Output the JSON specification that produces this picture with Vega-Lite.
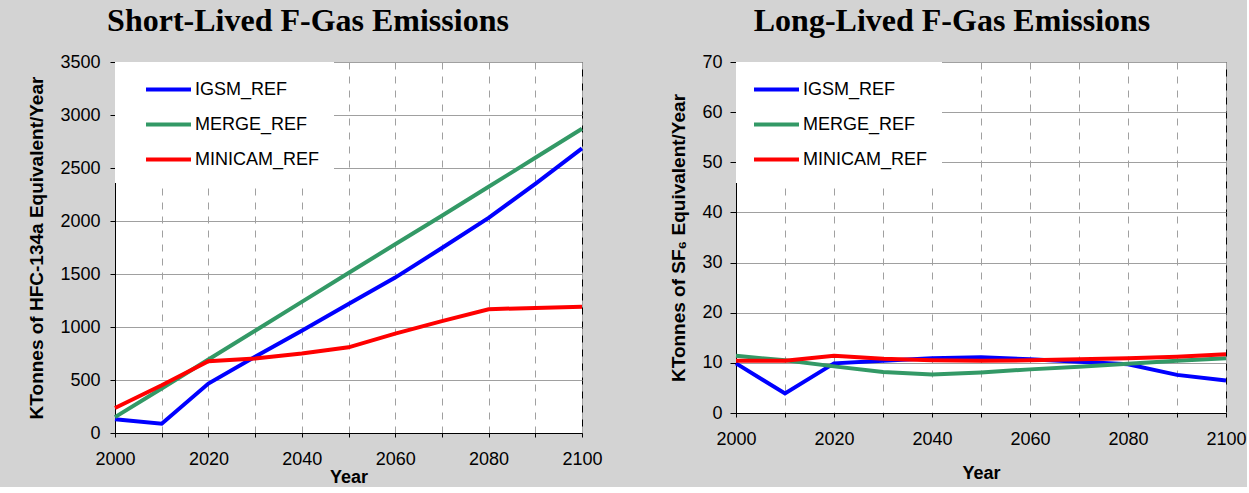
{
  "$schema": "https://vega.github.io/schema/vega-lite/v6.json",
  "background": "#d3d3d3",
  "padding": {"left": 27, "top": 4, "right": 0, "bottom": 0},
  "spacing": 66,
  "datasets": {
    "short": [
      {"model": "IGSM_REF", "year": 2000, "value": 130},
      {"model": "IGSM_REF", "year": 2010, "value": 88},
      {"model": "IGSM_REF", "year": 2020, "value": 466},
      {"model": "IGSM_REF", "year": 2030, "value": 720},
      {"model": "IGSM_REF", "year": 2040, "value": 965},
      {"model": "IGSM_REF", "year": 2050, "value": 1218},
      {"model": "IGSM_REF", "year": 2060, "value": 1466},
      {"model": "IGSM_REF", "year": 2070, "value": 1745},
      {"model": "IGSM_REF", "year": 2080, "value": 2030},
      {"model": "IGSM_REF", "year": 2090, "value": 2350},
      {"model": "IGSM_REF", "year": 2100, "value": 2685},
      {"model": "MERGE_REF", "year": 2000, "value": 150},
      {"model": "MERGE_REF", "year": 2010, "value": 420},
      {"model": "MERGE_REF", "year": 2020, "value": 693},
      {"model": "MERGE_REF", "year": 2030, "value": 965},
      {"model": "MERGE_REF", "year": 2040, "value": 1237},
      {"model": "MERGE_REF", "year": 2050, "value": 1510},
      {"model": "MERGE_REF", "year": 2060, "value": 1780},
      {"model": "MERGE_REF", "year": 2070, "value": 2050},
      {"model": "MERGE_REF", "year": 2080, "value": 2323},
      {"model": "MERGE_REF", "year": 2090, "value": 2596},
      {"model": "MERGE_REF", "year": 2100, "value": 2870},
      {"model": "MINICAM_REF", "year": 2000, "value": 236},
      {"model": "MINICAM_REF", "year": 2010, "value": 450},
      {"model": "MINICAM_REF", "year": 2020, "value": 677},
      {"model": "MINICAM_REF", "year": 2030, "value": 703},
      {"model": "MINICAM_REF", "year": 2040, "value": 750},
      {"model": "MINICAM_REF", "year": 2050, "value": 808},
      {"model": "MINICAM_REF", "year": 2060, "value": 938},
      {"model": "MINICAM_REF", "year": 2070, "value": 1056},
      {"model": "MINICAM_REF", "year": 2080, "value": 1168},
      {"model": "MINICAM_REF", "year": 2090, "value": 1180},
      {"model": "MINICAM_REF", "year": 2100, "value": 1192}
    ],
    "long": [
      {"model": "IGSM_REF", "year": 2000, "value": 9.9},
      {"model": "IGSM_REF", "year": 2010, "value": 3.9},
      {"model": "IGSM_REF", "year": 2020, "value": 9.9},
      {"model": "IGSM_REF", "year": 2030, "value": 10.4},
      {"model": "IGSM_REF", "year": 2040, "value": 10.9},
      {"model": "IGSM_REF", "year": 2050, "value": 11.1},
      {"model": "IGSM_REF", "year": 2060, "value": 10.7},
      {"model": "IGSM_REF", "year": 2070, "value": 10.2},
      {"model": "IGSM_REF", "year": 2080, "value": 9.7},
      {"model": "IGSM_REF", "year": 2090, "value": 7.6},
      {"model": "IGSM_REF", "year": 2100, "value": 6.5},
      {"model": "MERGE_REF", "year": 2000, "value": 11.4},
      {"model": "MERGE_REF", "year": 2010, "value": 10.5},
      {"model": "MERGE_REF", "year": 2020, "value": 9.3},
      {"model": "MERGE_REF", "year": 2030, "value": 8.2},
      {"model": "MERGE_REF", "year": 2040, "value": 7.7},
      {"model": "MERGE_REF", "year": 2050, "value": 8.1},
      {"model": "MERGE_REF", "year": 2060, "value": 8.7},
      {"model": "MERGE_REF", "year": 2070, "value": 9.2},
      {"model": "MERGE_REF", "year": 2080, "value": 9.8},
      {"model": "MERGE_REF", "year": 2090, "value": 10.4},
      {"model": "MERGE_REF", "year": 2100, "value": 10.9},
      {"model": "MINICAM_REF", "year": 2000, "value": 10.4},
      {"model": "MINICAM_REF", "year": 2010, "value": 10.4},
      {"model": "MINICAM_REF", "year": 2020, "value": 11.4},
      {"model": "MINICAM_REF", "year": 2030, "value": 10.8},
      {"model": "MINICAM_REF", "year": 2040, "value": 10.5},
      {"model": "MINICAM_REF", "year": 2050, "value": 10.4},
      {"model": "MINICAM_REF", "year": 2060, "value": 10.5},
      {"model": "MINICAM_REF", "year": 2070, "value": 10.7},
      {"model": "MINICAM_REF", "year": 2080, "value": 10.9},
      {"model": "MINICAM_REF", "year": 2090, "value": 11.2},
      {"model": "MINICAM_REF", "year": 2100, "value": 11.7}
    ]
  },
  "hconcat": [
    {
      "title": {"text": "Short-Lived F-Gas Emissions", "dx": -7},
      "width": 467,
      "height": 371,
      "data": {"name": "short"},
      "mark": {"type": "line", "strokeWidth": 4},
      "encoding": {
        "x": {
          "field": "year", "type": "quantitative",
          "scale": {"domain": [2000, 2100], "nice": false, "zero": false},
          "axis": {"title": "Year", "format": "d", "values": [2000, 2010, 2020, 2030, 2040, 2050, 2060, 2070, 2080, 2090, 2100], "labelExpr": "datum.value % 20 == 0 ? datum.label : ''", "titlePadding": 0}
        },
        "y": {
          "field": "value", "type": "quantitative",
          "scale": {"domain": [0, 3500], "nice": false},
          "axis": {"title": "KTonnes of HFC-134a Equivalent/Year", "format": "d", "values": [0, 500, 1000, 1500, 2000, 2500, 3000, 3500]}
        },
        "color": {
          "field": "model", "type": "nominal",
          "scale": {"domain": ["IGSM_REF", "MERGE_REF", "MINICAM_REF"], "range": ["#0000ff", "#339966", "#ff0000"]},
          "legend": {"title": null, "orient": "none", "legendX": 0, "legendY": 0, "symbolOffset": 26}
        }
      }
    },
    {
      "title": {"text": "Long-Lived F-Gas Emissions", "dx": -6},
      "width": 490,
      "height": 351,
      "data": {"name": "long"},
      "mark": {"type": "line", "strokeWidth": 4},
      "encoding": {
        "x": {
          "field": "year", "type": "quantitative",
          "scale": {"domain": [2000, 2100], "nice": false, "zero": false},
          "axis": {"title": "Year", "format": "d", "values": [2000, 2010, 2020, 2030, 2040, 2050, 2060, 2070, 2080, 2090, 2100], "labelExpr": "datum.value % 20 == 0 ? datum.label : ''", "titlePadding": 16}
        },
        "y": {
          "field": "value", "type": "quantitative",
          "scale": {"domain": [0, 70], "nice": false},
          "axis": {"title": "KTonnes of SF₆ Equivalent/Year", "format": "d", "values": [0, 10, 20, 30, 40, 50, 60, 70], "labelPadding": 8, "tickSize": 6}
        },
        "color": {
          "field": "model", "type": "nominal",
          "scale": {"domain": ["IGSM_REF", "MERGE_REF", "MINICAM_REF"], "range": ["#0000ff", "#339966", "#ff0000"]},
          "legend": {"title": null, "orient": "none", "legendX": 0, "legendY": 0, "symbolOffset": 13}
        }
      }
    }
  ],
  "resolve": {"scale": {"color": "independent", "y": "independent", "x": "independent"}, "legend": {"color": "independent"}},
  "config": {
    "font": "Liberation Sans",
    "view": {"stroke": "#000000", "strokeWidth": 1, "fill": "#ffffff"},
    "axis": {
      "labelFont": "Liberation Sans", "labelFontSize": 18, "labelColor": "#000000",
      "titleFont": "Liberation Sans", "titleFontSize": 18, "titleFontWeight": "bold", "titleColor": "#000000",
      "domainColor": "#000000", "tickColor": "#000000", "gridColor": "#a0a0a0", "gridOpacity": 1, "tickSize": 5
    },
    "axisX": {"labelPadding": 13, "labelFlush": false, "gridDash": [7, 7], "labelOverlap": false, "tickSize": 4},
    "axisY": {"labelPadding": 10, "titleFontSize": 19, "titlePadding": 13},
    "title": {"font": "Liberation Serif", "fontSize": 32, "fontWeight": "bold", "color": "#000000", "anchor": "middle", "frame": "bounds", "baseline": "alphabetic", "offset": 15},
    "legend": {
      "labelFont": "Liberation Sans", "labelFontSize": 18, "labelColor": "#000000",
      "symbolType": "M-2,0H2", "symbolStrokeWidth": 4, "symbolSize": 506,
      "fillColor": "#ffffff", "padding": 14, "rowPadding": 12, "labelOffset": 13
    }
  }
}
